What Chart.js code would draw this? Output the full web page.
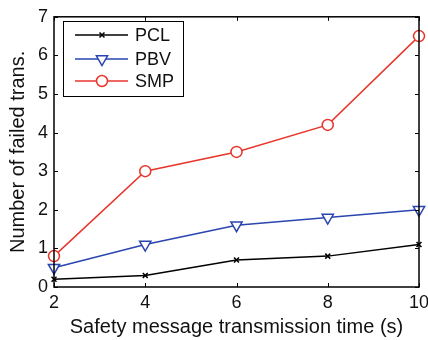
<!DOCTYPE html>
<html>
<head>
<meta charset="utf-8">
<script src="https://cdn.jsdelivr.net/npm/chart.js@4.4.0/dist/chart.umd.min.js"></script>
<style>
  html, body { margin: 0; padding: 0; background: #fff; }
  #wrap { width: 428px; height: 340px; overflow: hidden; }
</style>
</head>
<body>
<div id="wrap"><canvas id="chart" width="428" height="340"></canvas></div>
<script>
const times = [2, 4, 6, 8, 10];
const pcl = [0.2, 0.3, 0.7, 0.8, 1.1];
const pbv = [0.5, 1.1, 1.6, 1.8, 2.0];
const smp = [0.8, 3.0, 3.5, 4.2, 6.5];
const xTicks = [2, 4, 6, 8, 10];
const yTicks = [0, 1, 2, 3, 4, 5, 6, 7];

const FONT = "'Liberation Sans', Arial, Helvetica, sans-serif";

const toXY = (arr) => arr.map((v, i) => ({ x: times[i], y: v }));

// matlab style box + inward ticks on all sides
const boxTicks = {
  id: "boxTicks",
  afterDatasetsDraw(chart) {
    const { ctx, chartArea: a, scales } = chart;
    ctx.save();
    ctx.strokeStyle = "#000";
    ctx.lineWidth = 1;
    ctx.beginPath();
    xTicks.forEach((t) => {
      const px = Math.round(scales.x.getPixelForValue(t)) + 0.5;
      ctx.moveTo(px, a.bottom);
      ctx.lineTo(px, a.bottom - 4);
      ctx.moveTo(px, a.top);
      ctx.lineTo(px, a.top + 4);
    });
    yTicks.forEach((t) => {
      const py = Math.round(scales.y.getPixelForValue(t)) + 0.5;
      ctx.moveTo(a.left, py);
      ctx.lineTo(a.left + 4, py);
      ctx.moveTo(a.right, py);
      ctx.lineTo(a.right - 4, py);
    });
    ctx.stroke();
    ctx.lineWidth = 1.5;
    ctx.strokeRect(a.left, a.top, a.right - a.left, a.bottom - a.top);
    ctx.restore();
  },
};

// legend box inside the plot, line with marker in the middle
const boxLegend = {
  id: "boxLegend",
  afterDraw(chart) {
    const { ctx } = chart;
    const x0 = 63, y0 = 21, w = 120, h = 75;
    ctx.save();
    ctx.fillStyle = "#fff";
    ctx.fillRect(x0, y0, w, h);
    ctx.strokeStyle = "#000";
    ctx.lineWidth = 1;
    ctx.strokeRect(x0 + 0.5, y0 + 0.5, w, h);
    const rows = [35, 59, 81];
    chart.data.datasets.forEach((ds, i) => {
      const y = rows[i];
      ctx.strokeStyle = ds.borderColor;
      ctx.lineWidth = ds.borderWidth;
      ctx.beginPath();
      ctx.moveTo(75, y);
      ctx.lineTo(128, y);
      ctx.stroke();
      ctx.fillStyle = "#fff";
      Chart.helpers.drawPoint(ctx, {
        pointStyle: ds.pointStyle,
        rotation: ds.pointRotation || 0,
        radius: ds.pointRadius,
        borderWidth: ds.pointBorderWidth,
      }, 102, y);
      ctx.fillStyle = "#111";
      ctx.font = "18px " + FONT;
      ctx.textBaseline = "middle";
      ctx.fillText(ds.label, 135, y + 1);
    });
    ctx.restore();
  },
};

const mkSet = (label, data, color, style, radius, rot) => ({
  label,
  data: toXY(data),
  borderColor: color,
  backgroundColor: "#fff",
  pointBorderColor: color,
  pointBackgroundColor: "#fff",
  borderWidth: 1.5,
  pointBorderWidth: 1.5,
  pointStyle: style,
  pointRadius: radius,
  pointHoverRadius: radius,
  pointRotation: rot,
  tension: 0,
});

new Chart(document.getElementById("chart").getContext("2d"), {
  type: "line",
  data: {
    datasets: [
      mkSet("PCL", pcl, "#000000", "crossRot", 3.5, 0),
      mkSet("PBV", pbv, "#2a44b0", "triangle", 6.5, 180),
      mkSet("SMP", smp, "#e8352b", "circle", 5.5, 0),
    ],
  },
  options: {
    responsive: false,
    animation: false,
    clip: false,
    layout: { padding: { top: 12, left: 0, right: 0, bottom: 0 } },
    plugins: {
      legend: { display: false },
      tooltip: { enabled: false },
    },
    scales: {
      x: {
        type: "linear",
        min: 2,
        max: 10,
        afterBuildTicks: (s) => { s.ticks = xTicks.map((v) => ({ value: v })); },
        afterFit: (s) => { s.height = 53; s.paddingRight = 9; s.paddingLeft = 0; },
        grid: { display: false, drawTicks: false },
        border: { display: false },
        ticks: { color: "#111", padding: 5, font: { family: FONT, size: 18 } },
        title: {
          display: true,
          text: "Safety message transmission time (s)",
          color: "#111",
          padding: { top: 0, bottom: 1 },
          font: { family: FONT, size: 20 },
        },
      },
      y: {
        min: 0,
        max: 7,
        afterBuildTicks: (s) => { s.ticks = yTicks.map((v) => ({ value: v })); },
        afterFit: (s) => { s.width = 54; },
        grid: { display: false, drawTicks: false },
        border: { display: false },
        ticks: { color: "#111", padding: 6, font: { family: FONT, size: 18 } },
        title: {
          display: true,
          text: "Number of failed trans.",
          color: "#111",
          padding: { top: 6, bottom: 0 },
          font: { family: FONT, size: 20 },
        },
      },
    },
  },
  plugins: [boxTicks, boxLegend],
});
</script>
</body>
</html>
